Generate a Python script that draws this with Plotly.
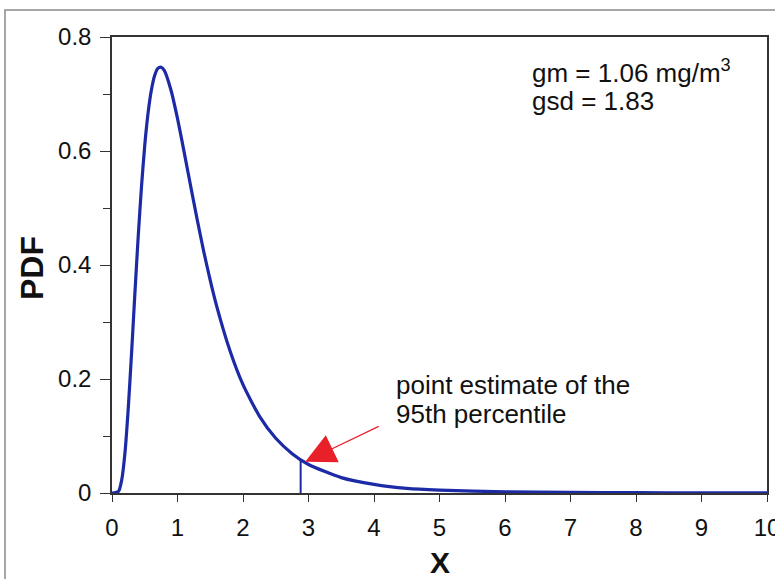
import plotly.graph_objects as go

# Curve values (PDF vs X)
x_vals = [0.0, 0.1, 0.15, 0.2, 0.25, 0.3, 0.35, 0.4, 0.45, 0.5, 0.55, 0.6, 0.65, 0.7, 0.75,
          0.8, 0.9, 1.0, 1.1, 1.2, 1.3, 1.4, 1.5, 1.6, 1.8, 2.0, 2.25, 2.5, 2.75, 3.0,
          3.5, 4.0, 4.5, 5.0, 6.0, 7.0, 8.0, 9.0, 10.0]
pdf_vals = [0.0, 0.003, 0.024, 0.073, 0.152, 0.248, 0.351, 0.450, 0.537, 0.610, 0.666, 0.706,
            0.732, 0.745, 0.747, 0.741, 0.707, 0.657, 0.599, 0.539, 0.480, 0.424, 0.373,
            0.327, 0.250, 0.190, 0.135, 0.096, 0.069, 0.050, 0.027, 0.015, 0.008, 0.005,
            0.002, 0.001, 0.0005, 0.0002, 0.0001]

p95_x = [2.88, 2.88]
p95_y = [0.0, 0.059]

x_ticks = [0, 1, 2, 3, 4, 5, 6, 7, 8, 9, 10]
y_ticks = [0, 0.2, 0.4, 0.6, 0.8]

FONT = "Liberation Sans, Arial, sans-serif"
BLUE = "#1c2aa6"

L, R, T, B = 112, 8, 37, 86
PW, PH = 775 - L - R, 579 - T - B

def px_x(p):  # page pixel -> paper x
    return (p - L) / PW

def px_y(p):  # page pixel -> paper y
    return (579 - B - p) / PH

fig = go.Figure()
fig.add_trace(go.Scatter(x=x_vals, y=pdf_vals, mode="lines",
                         line=dict(color=BLUE, width=3.2, shape="spline", smoothing=0.6),
                         showlegend=False, hoverinfo="skip"))
fig.add_trace(go.Scatter(x=p95_x, y=p95_y, mode="lines",
                         line=dict(color=BLUE, width=2),
                         showlegend=False, hoverinfo="skip"))

fig.update_layout(
    width=775, height=579,
    margin=dict(l=L, r=R, t=T, b=B, autoexpand=False),
    paper_bgcolor="white", plot_bgcolor="white",
    font=dict(family=FONT, color="#111", size=24),
    xaxis=dict(range=[0, 10], tickvals=x_ticks, showgrid=False, zeroline=False,
               automargin=False, ticklabeloverflow="allow",
               showline=True, linecolor="#333", linewidth=1.5, mirror=True,
               ticks="outside", ticklen=7, tickwidth=1.2, tickcolor="#333",
               ticklabelstandoff=5, tickfont=dict(size=24)),
    yaxis=dict(range=[0, 0.8], tickvals=y_ticks, showgrid=False, zeroline=False,
               automargin=False, ticklabeloverflow="allow",
               showline=True, linecolor="#333", linewidth=1.5, mirror=True,
               ticks="outside", ticklen=10, tickwidth=1.2, tickcolor="#333",
               ticklabelstandoff=4, tickfont=dict(size=24),
               minor=dict(tickvals=[0.1, 0.3, 0.5, 0.7], ticks="outside", ticklen=7,
                          tickwidth=1.2, tickcolor="#333", showgrid=False)),
    shapes=[dict(type="rect", xref="paper", yref="paper",
                 x0=px_x(5), x1=px_x(790), y0=px_y(600), y1=px_y(10),
                 line=dict(color="#8a8a8a", width=1.5), layer="below")],
    annotations=[
        dict(text="<b>PDF</b>", xref="paper", yref="paper", x=px_x(32), y=px_y(268),
             xanchor="center", yanchor="middle",
             showarrow=False, textangle=-90, font=dict(size=32, color="#111")),
        dict(text="<b>X</b>", xref="paper", yref="paper", x=0.5, y=px_y(562),
             xanchor="center", yanchor="middle",
             showarrow=False, font=dict(size=30, color="#111")),
        dict(text="gm = 1.06 mg/m<sup>3</sup>", xref="paper", yref="paper",
             x=px_x(530), y=px_y(71), xanchor="left", yanchor="middle", align="left",
             showarrow=False, font=dict(size=26, color="#111")),
        dict(text="gsd = 1.83", xref="paper", yref="paper",
             x=px_x(530), y=px_y(101), xanchor="left", yanchor="middle", align="left",
             showarrow=False, font=dict(size=26, color="#111")),
        dict(text="point estimate of the", xref="paper", yref="paper",
             x=px_x(394), y=px_y(385), xanchor="left", yanchor="middle", align="left",
             showarrow=False, font=dict(size=26, color="#111")),
        dict(text="95th percentile", xref="paper", yref="paper",
             x=px_x(394), y=px_y(414), xanchor="left", yanchor="middle", align="left",
             showarrow=False, font=dict(size=26, color="#111")),
        dict(text="", x=2.95, y=0.055, xref="x", yref="y", ax=75, ay=-36, showarrow=True,
             arrowhead=2, arrowsize=5, arrowwidth=1.2, arrowcolor="#e8202a"),
    ],
)

fig.write_html("out.html", config={"displayModeBar": False},
               post_script="document.body.style.margin='0';document.body.style.overflow='hidden';")
